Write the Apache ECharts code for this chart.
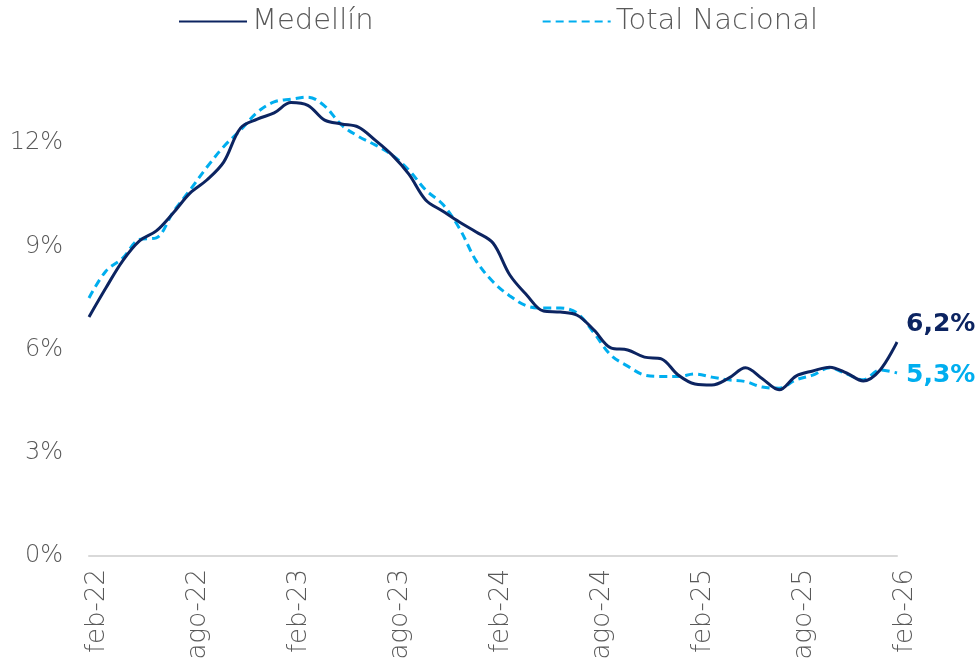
<!DOCTYPE html>
<html>
<head>
<meta charset="utf-8">
<script src="https://cdn.jsdelivr.net/npm/echarts@6/dist/echarts.min.js"></script>
<style>
  html, body { margin: 0; padding: 0; background: #fff; }
  #chart { width: 979px; height: 668px; }
</style>
</head>
<body>
<div id="chart"></div>
<script>
// meses, feb-22 a feb-26
var meses = [
  'feb-22','mar-22','abr-22','may-22','jun-22','jul-22','ago-22','sep-22','oct-22','nov-22','dic-22','ene-23',
  'feb-23','mar-23','abr-23','may-23','jun-23','jul-23','ago-23','sep-23','oct-23','nov-23','dic-23','ene-24',
  'feb-24','mar-24','abr-24','may-24','jun-24','jul-24','ago-24','sep-24','oct-24','nov-24','dic-24','ene-25',
  'feb-25','mar-25','abr-25','may-25','jun-25','jul-25','ago-25','sep-25','oct-25','nov-25','dic-25','ene-26',
  'feb-26'
];
// inflacion anual (%)
var medellin = [
  6.95, 7.79, 8.58, 9.16, 9.45, 9.97, 10.55, 10.93, 11.45, 12.44, 12.70, 12.88,
  13.18, 13.10, 12.67, 12.56, 12.47, 12.09, 11.66, 11.10, 10.35, 10.03, 9.71, 9.42,
  9.10, 8.17, 7.59, 7.12, 7.09, 7.00, 6.57, 6.05, 5.99, 5.78, 5.73, 5.26,
  5.00, 4.97, 5.17, 5.47, 5.15, 4.83, 5.23, 5.38, 5.49, 5.32, 5.09, 5.41,
  6.22
];
var nacional = [
  7.50, 8.28, 8.66, 9.20, 9.25, 10.00, 10.64, 11.30, 11.90, 12.38, 12.90, 13.20,
  13.28, 13.34, 13.08, 12.53, 12.20, 11.95, 11.66, 11.22, 10.64, 10.23, 9.53, 8.58,
  7.97, 7.56, 7.27, 7.21, 7.21, 7.06, 6.48, 5.84, 5.52, 5.26, 5.22, 5.22,
  5.29, 5.20, 5.12, 5.07, 4.91, 4.88, 5.12, 5.26, 5.47, 5.29, 5.12, 5.41,
  5.32
];
var yTicks = [0, 3, 6, 9, 12];

var colMed = '#0c2461';
var colNac = '#00aeef';
var gris = '#595959';
var fuente = '"DejaVu Sans", sans-serif';

var chart = echarts.init(document.getElementById('chart'));

function fmtFin(p) {
  return p.value.toFixed(1).replace('.', ',') + '%';
}

var option = {
  animation: false,
  textStyle: { fontFamily: fuente },
  legend: {
    top: 2,
    left: 173,
    itemWidth: 68,
    itemHeight: 14,
    itemGap: 168,
    itemStyle: { opacity: 0 },
    textStyle: { fontSize: 29, color: gris, fontFamily: fuente, fontWeight: 300 },
    data: ['Medellín', 'Total Nacional']
  },
  grid: { left: 89, right: 82, top: 40, bottom: 112, containLabel: false },
  xAxis: {
    type: 'category',
    data: meses,
    boundaryGap: false,
    axisLine: { lineStyle: { color: '#d9d9d9', width: 2 } },
    axisTick: { show: false },
    axisLabel: {
      interval: 5,
      rotate: 90,
      margin: 13,
      fontSize: 26,
      color: gris,
      fontFamily: fuente,
      fontWeight: 300,
      verticalAlign: 'top',
      lineHeight: 16
    },
    splitLine: { show: false }
  },
  yAxis: {
    type: 'value',
    min: 0,
    max: 15,
    interval: 3,
    axisLine: { show: false },
    axisTick: { show: false },
    splitLine: { show: false },
    axisLabel: {
      showMaxLabel: false,
      margin: 26,
      fontSize: 24,
      color: gris,
      fontFamily: fuente,
      fontWeight: 300,
      formatter: function (v) { return yTicks.indexOf(v) >= 0 ? v + '%' : ''; }
    }
  },
  series: [
    {
      name: 'Medellín',
      type: 'line',
      data: medellin,
      smooth: 0.35,
      symbol: 'none',
      lineStyle: { color: colMed, width: 3 },
      itemStyle: { color: colMed },
      endLabel: {
        show: true,
        formatter: fmtFin,
        fontSize: 25,
        fontWeight: 'bold',
        color: colMed,
        fontFamily: fuente,
        offset: [1, -18]
      },
      z: 3
    },
    {
      name: 'Total Nacional',
      type: 'line',
      data: nacional,
      smooth: 0.35,
      symbol: 'none',
      lineStyle: { color: colNac, width: 3, type: [8, 5] },
      itemStyle: { color: colNac },
      endLabel: {
        show: true,
        formatter: fmtFin,
        fontSize: 25,
        fontWeight: 'bold',
        color: colNac,
        fontFamily: fuente,
        offset: [1, 3]
      },
      z: 2
    }
  ]
};

chart.setOption(option);
</script>
</body>
</html>
